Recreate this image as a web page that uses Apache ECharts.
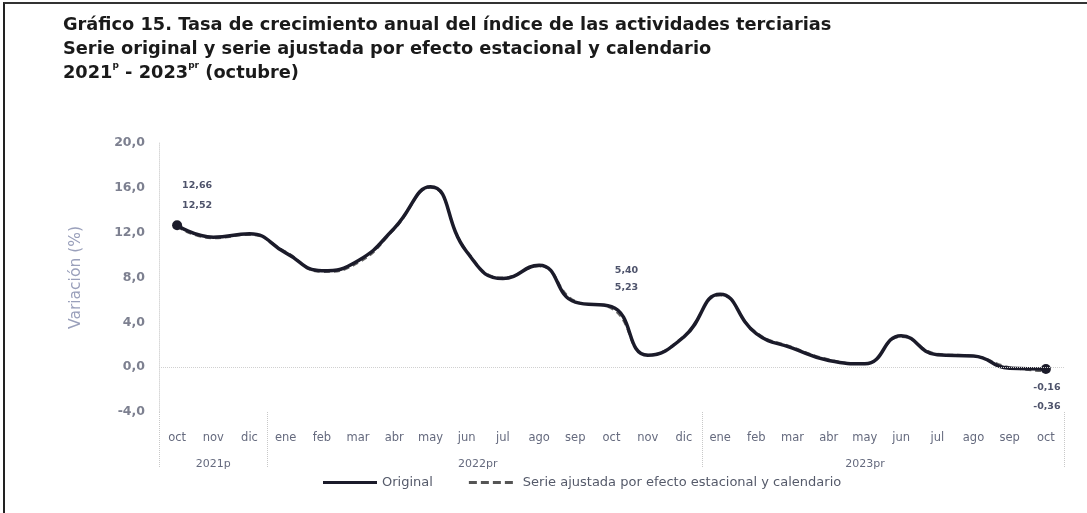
<!DOCTYPE html>
<html>
<head>
<meta charset="utf-8">
<script src="https://cdn.jsdelivr.net/npm/echarts@6/dist/echarts.min.js"></script>
<style>
html,body{margin:0;padding:0;background:#fff;}
#frame{position:absolute;left:3px;top:2px;width:1084px;height:511px;border-left:2px solid #222;border-top:2px solid #333;box-sizing:border-box;}
#chart{position:absolute;left:0;top:0;width:1087px;height:513px;}
</style>
</head>
<body>
<div id="frame"></div>
<div id="chart"></div>
<script>
const months = ['oct','nov','dic','ene','feb','mar','abr','may','jun','jul','ago','sep','oct','nov','dic','ene','feb','mar','abr','may','jun','jul','ago','sep','oct'];
const yearLabels = {1: '2021p', 8: '2022pr', 19: '2023pr'};
const yearStarts = [0, 3, 15];
const original = [12.66, 11.6, 11.9, 10.2, 8.6, 9.5, 12.4, 16.1, 10.3, 7.9, 9.1, 5.8, 5.40, 1.06, 2.7, 6.5, 3.0, 1.7, 0.6, 0.3, 2.8, 1.1, 1.0, -0.1, -0.16];
const adjusted = [12.52, 11.5, 11.8, 10.3, 8.5, 9.3, 12.3, 16.0, 10.4, 8.0, 9.0, 5.9, 5.23, 1.1, 2.8, 6.4, 3.1, 1.8, 0.7, 0.3, 2.7, 1.2, 1.0, 0.0, -0.36];
const labeledIdx = [0, 12, 24];
const yTicks = {min: -4, max: 20, interval: 4};

const fmt = v => v.toFixed(2).replace('.', ',');

function buildData(arr, isOrig) {
  return arr.map((v, i) => {
    const item = {value: v};
    if (labeledIdx.includes(i)) {
      let off;
      if (i === 0) off = isOrig ? [20, -40] : [20, -21];
      else if (i === 12) off = isOrig ? [15, -36] : [15, -21];
      else off = isOrig ? [1, 19] : [1, 35];
      item.label = {show: true, position: 'inside', offset: off, formatter: fmt(v),
        color: '#4e536b', fontSize: 9.5, fontWeight: 'bold', fontFamily: 'DejaVu Sans'};
    }
    return item;
  });
}

const chart = echarts.init(document.getElementById('chart'), null, {renderer: 'canvas'});
chart.setOption({
  animation: false,
  title: {
    left: 58, top: 8,
    text: '{a|Gráfico 15. Tasa de crecimiento anual del índice de las actividades terciarias}\n{a|Serie original y serie ajustada por efecto estacional y calendario}\n{a|2021}{s|p}{a| - 2023}{s|pr}{a| (octubre)}',
    textStyle: {
      rich: {
        a: {fontFamily: 'DejaVu Sans', fontWeight: 'bold', fontSize: 17.8, color: '#1a1a1a', lineHeight: 24},
        s: {fontFamily: 'DejaVu Sans', fontWeight: 'bold', fontSize: 9, color: '#1a1a1a', verticalAlign: 'top', lineHeight: 24, padding: [0, 0, 7, 0]}
      }
    }
  },
  grid: {left: 159, right: 23, top: 143, bottom: 101},
  legend: {
    bottom: 19, left: 318,
    itemGap: 36,
    textStyle: {fontFamily: 'DejaVu Sans', fontSize: 13, color: '#555a6a'},
    data: [
      {name: 'Original', icon: 'rect', itemStyle: {color: '#1b1b2a'}},
      {name: 'Serie ajustada por efecto estacional y calendario', icon: 'path://M0,0h8v3h-8z M12,0h8v3h-8z M24,0h8v3h-8z M36,0h8v3h-8z', itemStyle: {color: '#555'}}
    ],
    itemWidth: 54, itemHeight: 3
  },
  xAxis: [
    {
      type: 'category', data: months, boundaryGap: true,
      axisLine: {show: false}, axisTick: {show: false},
      axisLabel: {margin: 20, interval: 0, color: '#656a7e', fontFamily: 'DejaVu Sans', fontSize: 11.5}
    },
    {
      type: 'category', data: months, boundaryGap: true, position: 'bottom',
      axisLine: {show: false},
      axisTick: {show: true, length: 55, interval: (i) => yearStarts.includes(i), lineStyle: {color: '#c8c8c8', type: 'dotted', width: 1}},
      axisLabel: {margin: 47, interval: 0, color: '#656a7e', fontFamily: 'DejaVu Sans', fontSize: 11,
        formatter: (v, i) => yearLabels[i] ? (i === 8 ? '{r|' + yearLabels[i] + '}' : yearLabels[i]) : '',
        rich: {r: {padding: [0, 0, 0, 22], color: '#656a7e', fontFamily: 'DejaVu Sans', fontSize: 11}}}
    }
  ],
  yAxis: {
    type: 'value', min: yTicks.min, max: yTicks.max, interval: yTicks.interval,
    name: 'Variación (%)', nameLocation: 'middle', nameGap: 75, nameRotate: 90,
    nameTextStyle: {color: '#9aa0bb', fontFamily: 'DejaVu Sans', fontSize: 15.5},
    axisLine: {show: true, lineStyle: {color: '#d8d8d8', type: 'dotted'}},
    axisTick: {show: false},
    splitLine: {show: false},
    axisLabel: {margin: 14, color: '#7d8090', fontWeight: 'bold', fontFamily: 'DejaVu Sans', fontSize: 12.5,
      formatter: v => v.toFixed(1).replace('.', ',')}
  },
  series: [
    {
      name: 'Serie ajustada por efecto estacional y calendario', type: 'line', smooth: 0.5,
      data: buildData(adjusted, false), symbol: 'circle', symbolSize: 0.01, showSymbol: true,
      itemStyle: {color: '#666'},
      lineStyle: {color: '#666', width: 2, type: [6, 4]}, z: 2
    },
    {
      name: 'Original', type: 'line', smooth: 0.5,
      data: buildData(original, true),
      symbol: 'circle', symbolSize: (v, p) => (p.dataIndex === 0 || p.dataIndex === original.length - 1) ? 10 : 0.01,
      itemStyle: {color: '#1b1b2a'},
      lineStyle: {color: '#1b1b2a', width: 3.5}, z: 3,
      markLine: {silent: true, symbol: 'none', label: {show: false},
        lineStyle: {color: '#d0d0d0', type: 'dotted', width: 1}, data: [{yAxis: 0}]}
    }
  ]
});
</script>
</body>
</html>
